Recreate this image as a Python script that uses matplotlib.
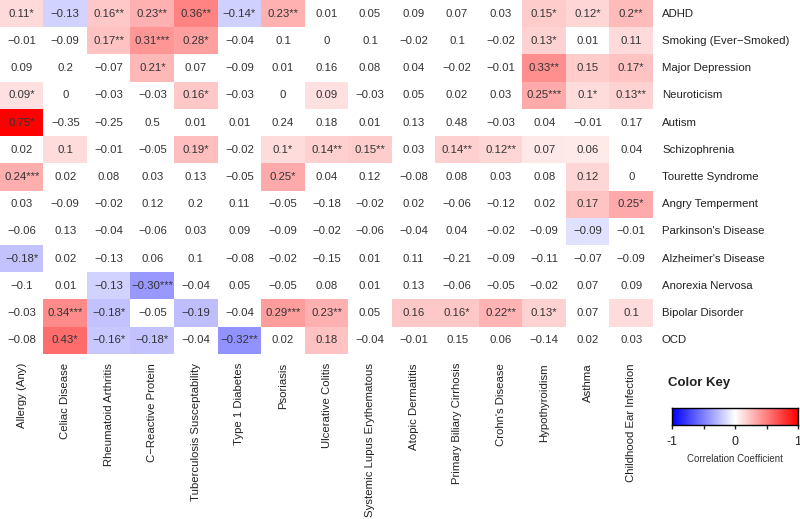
import numpy as np
import matplotlib
matplotlib.use("Agg")
import matplotlib.pyplot as plt
from matplotlib.colors import LinearSegmentedColormap

plt.rcParams['font.family'] = ['Liberation Sans', 'DejaVu Sans']

row_labels = ["ADHD", "Smoking (Ever\u2212Smoked)", "Major Depression", "Neuroticism", "Autism",
              "Schizophrenia", "Tourette Syndrome", "Angry Temperment", "Parkinson's Disease",
              "Alzheimer's Disease", "Anorexia Nervosa", "Bipolar Disorder", "OCD"]
col_labels = ["Allergy (Any)", "Celiac Disease", "Rheumatoid Arthritis", "C\u2212Reactive Protein",
              "Tuberculosis Susceptability", "Type 1 Diabetes", "Psoriasis", "Ulcerative Colitis",
              "Systemic Lupus Erythematous", "Atopic Dermatitis", "Primary Biliary Cirrhosis",
              "Crohn's Disease", "Hypothyroidism", "Asthma", "Childhood Ear Infection"]

values = [
    ["0.11", "-0.13", "0.16", "0.23", "0.36", "-0.14", "0.23", "0.01", "0.05", "0.09", "0.07", "0.03", "0.15", "0.12", "0.2"],
    ["-0.01", "-0.09", "0.17", "0.31", "0.28", "-0.04", "0.1", "0", "0.1", "-0.02", "0.1", "-0.02", "0.13", "0.01", "0.11"],
    ["0.09", "0.2", "-0.07", "0.21", "0.07", "-0.09", "0.01", "0.16", "0.08", "0.04", "-0.02", "-0.01", "0.33", "0.15", "0.17"],
    ["0.09", "0", "-0.03", "-0.03", "0.16", "-0.03", "0", "0.09", "-0.03", "0.05", "0.02", "0.03", "0.25", "0.1", "0.13"],
    ["0.75", "-0.35", "-0.25", "0.5", "0.01", "0.01", "0.24", "0.18", "0.01", "0.13", "0.48", "-0.03", "0.04", "-0.01", "0.17"],
    ["0.02", "0.1", "-0.01", "-0.05", "0.19", "-0.02", "0.1", "0.14", "0.15", "0.03", "0.14", "0.12", "0.07", "0.06", "0.04"],
    ["0.24", "0.02", "0.08", "0.03", "0.13", "-0.05", "0.25", "0.04", "0.12", "-0.08", "0.08", "0.03", "0.08", "0.12", "0"],
    ["0.03", "-0.09", "-0.02", "0.12", "0.2", "0.11", "-0.05", "-0.18", "-0.02", "0.02", "-0.06", "-0.12", "0.02", "0.17", "0.25"],
    ["-0.06", "0.13", "-0.04", "-0.06", "0.03", "0.09", "-0.09", "-0.02", "-0.06", "-0.04", "0.04", "-0.02", "-0.09", "-0.09", "-0.01"],
    ["-0.18", "0.02", "-0.13", "0.06", "0.1", "-0.08", "-0.02", "-0.15", "0.01", "0.11", "-0.21", "-0.09", "-0.11", "-0.07", "-0.09"],
    ["-0.1", "0.01", "-0.13", "-0.30", "-0.04", "0.05", "-0.05", "0.08", "0.01", "0.13", "-0.06", "-0.05", "-0.02", "0.07", "0.09"],
    ["-0.03", "0.34", "-0.18", "-0.05", "-0.19", "-0.04", "0.29", "0.23", "0.05", "0.16", "0.16", "0.22", "0.13", "0.07", "0.1"],
    ["-0.08", "0.43", "-0.16", "-0.18", "-0.04", "-0.32", "0.02", "0.18", "-0.04", "-0.01", "0.15", "0.06", "-0.14", "0.02", "0.03"],
]

stars = [
    [1, 0, 2, 2, 2, 1, 2, 0, 0, 0, 0, 0, 1, 1, 2],
    [0, 0, 2, 3, 1, 0, 0, 0, 0, 0, 0, 0, 1, 0, 0],
    [0, 0, 0, 1, 0, 0, 0, 0, 0, 0, 0, 0, 2, 0, 1],
    [1, 0, 0, 0, 1, 0, 0, 0, 0, 0, 0, 0, 3, 1, 2],
    [1, 0, 0, 0, 0, 0, 0, 0, 0, 0, 0, 0, 0, 0, 0],
    [0, 0, 0, 0, 1, 0, 1, 2, 2, 0, 2, 2, 0, 0, 0],
    [3, 0, 0, 0, 0, 0, 1, 0, 0, 0, 0, 0, 0, 0, 0],
    [0, 0, 0, 0, 0, 0, 0, 0, 0, 0, 0, 0, 0, 0, 1],
    [0, 0, 0, 0, 0, 0, 0, 0, 0, 0, 0, 0, 0, 0, 0],
    [1, 0, 0, 0, 0, 0, 0, 0, 0, 0, 0, 0, 0, 0, 0],
    [0, 0, 0, 3, 0, 0, 0, 0, 0, 0, 0, 0, 0, 0, 0],
    [0, 3, 1, 0, 0, 0, 3, 2, 0, 0, 1, 2, 1, 0, 0],
    [0, 1, 1, 1, 0, 2, 0, 0, 0, 0, 0, 0, 0, 0, 0],
]

shaded = [
    [1, 1, 1, 1, 1, 1, 1, 0, 0, 0, 0, 0, 1, 1, 1],
    [0, 0, 1, 1, 1, 0, 0, 0, 0, 0, 0, 0, 1, 0, 1],
    [0, 0, 0, 1, 0, 0, 0, 0, 0, 0, 0, 0, 1, 1, 1],
    [1, 0, 0, 0, 1, 0, 0, 1, 0, 0, 0, 0, 1, 1, 1],
    [1, 0, 0, 0, 0, 0, 0, 0, 0, 0, 0, 0, 0, 0, 0],
    [0, 1, 0, 0, 1, 0, 1, 1, 1, 0, 1, 1, 1, 1, 0],
    [1, 0, 0, 0, 0, 0, 1, 0, 0, 0, 0, 0, 0, 1, 0],
    [0, 0, 0, 0, 0, 0, 0, 0, 0, 0, 0, 0, 0, 1, 1],
    [0, 0, 0, 0, 0, 0, 0, 0, 0, 0, 0, 0, 0, 1, 0],
    [1, 0, 0, 0, 0, 0, 0, 0, 0, 0, 0, 0, 0, 0, 0],
    [0, 0, 1, 1, 0, 0, 0, 0, 0, 0, 0, 0, 0, 0, 0],
    [0, 1, 1, 0, 1, 0, 1, 1, 0, 1, 1, 1, 1, 0, 1],
    [0, 1, 1, 1, 0, 1, 0, 1, 0, 0, 0, 0, 0, 0, 0],
]

vals = np.array([[float(v) for v in r] for r in values])
mask = np.array(shaded) == 0
data = np.ma.masked_array(vals, mask=mask)

cmap = LinearSegmentedColormap.from_list("bwr_r", ["#0000ff", "#ffffff", "#ff0000"])
cmap.set_bad("white")

W, H = 800, 519
AX_W, AX_H = 653, 354
fig = plt.figure(figsize=(W / 100, H / 100), dpi=100)
ax = fig.add_axes([0, 1 - AX_H / H, AX_W / W, AX_H / H])
nr, nc = vals.shape
cw = AX_W / nc
rh = AX_H / nr
ax.imshow(data, cmap=cmap, vmin=-0.75, vmax=0.75, aspect='auto', interpolation='nearest')
ax.set_xlim(-0.5, nc - 0.5)
ax.set_ylim(nr - 0.5, -0.5)
for s in ax.spines.values():
    s.set_visible(False)
ax.set_xticks([])
ax.set_yticks([])

for i in range(nr):
    for j in range(nc):
        txt = values[i][j].replace("-", "\u2212") + "*" * stars[i][j]
        ax.text(j, i, txt, ha='center', va='center', fontsize=8.2, color='#333333')
    ax.text(nc - 0.5 + 9 / cw, i, row_labels[i], ha='left', va='center',
            fontsize=8.2, color='#222222', clip_on=False)

for j in range(nc):
    ax.text(j, nr - 0.5 + 9 / rh, col_labels[j], rotation=90, ha='center', va='top',
            fontsize=8.2, color='#222222', clip_on=False)

# Color key
fig.text(668 / W, 1 - 383 / H, "Color Key", fontsize=9.5, fontweight='bold', ha='left', va='center',
         color='#222222')
cax = fig.add_axes([672 / W, 1 - 425 / H, 126 / W, 17 / H])
grad = np.linspace(-1, 1, 256).reshape(1, -1)
cax.imshow(grad, cmap=cmap, vmin=-1, vmax=1, aspect='auto', extent=[-1, 1, 0, 1])
cax.set_yticks([])
cax.set_xticks([-1, -0.5, 0, 0.5, 1])
cax.set_xticklabels(["-1", "", "0", "", "1"], fontsize=9)
cax.tick_params(axis='x', length=3, width=1, pad=5, colors='#222222')
for s in cax.spines.values():
    s.set_linewidth(1)
fig.text(735 / W, 1 - 459 / H, "Correlation Coefficient", fontsize=7, ha='center', va='center',
         color='#333333')

fig.savefig("out.png", dpi=100)
